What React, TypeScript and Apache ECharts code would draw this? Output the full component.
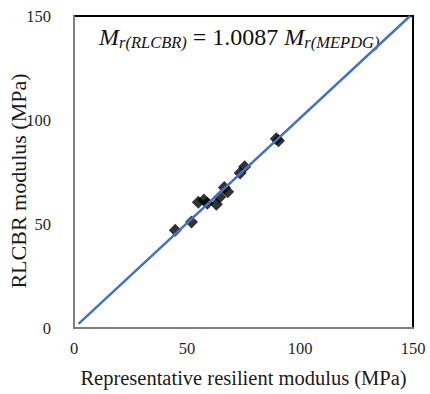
import React, { useEffect, useRef } from "react";
import * as echarts from "echarts";

// Measured pairs: representative resilient modulus (MEPDG) vs RLCBR modulus, MPa
const mepdgModulus = [44.8, 52, 55, 57.5, 59, 63, 64.5, 66.5, 68, 73.5, 75.5, 89.5, 90.5];
const rlcbrModulus = [47, 51, 60.5, 61.5, 60, 59.5, 63, 67.5, 65.5, 74.5, 77.5, 91, 90];

// Fitted line through the origin
const fitSlope = 1.0087;
const fitRangeX = [2, 148.7];

const axisTicks = [0, 50, 100, 150];

const SERIF = "Times New Roman, Liberation Serif, serif";

export default function App() {
  const ref = useRef<HTMLDivElement>(null);

  useEffect(() => {
    if (!ref.current) return;
    const chart = echarts.init(ref.current, null, { renderer: "svg" });
    const points = mepdgModulus.map((x, i) => [x, rlcbrModulus[i]]);
    const fitLine = fitRangeX.map((x) => [x, fitSlope * x]);
    const axisMin = axisTicks[0];
    const axisMax = axisTicks[axisTicks.length - 1];
    const step = axisTicks[1] - axisTicks[0];

    chart.setOption({
      animation: false,
      backgroundColor: "#ffffff",
      textStyle: { fontFamily: SERIF },
      grid: {
        left: 74,
        top: 16,
        width: 339,
        height: 312,
        outerBoundsMode: "none",
        containLabel: false,
        show: true,
        borderColor: "#000000",
        borderWidth: 2,
      },
      xAxis: {
        type: "value",
        min: axisMin,
        max: axisMax,
        interval: step,
        name: "Representative resilient modulus (MPa)",
        nameLocation: "middle",
        nameGap: 39,
        nameTextStyle: { fontFamily: SERIF, fontSize: 20.5, color: "#1a1a1a" },
        axisLine: { show: true, lineStyle: { color: "#7f7f7f", width: 2 } },
        axisTick: { show: false },
        splitLine: { show: false },
        axisLabel: { fontFamily: SERIF, fontSize: 16.5, color: "#1f1f1f", margin: 12 },
      },
      yAxis: {
        type: "value",
        min: axisMin,
        max: axisMax,
        interval: step,
        axisLine: { show: true, lineStyle: { color: "#7f7f7f", width: 2 } },
        axisTick: { show: false },
        splitLine: { show: false },
        axisLabel: { fontFamily: SERIF, fontSize: 16.5, color: "#1f1f1f", margin: 23 },
      },
      series: [
        {
          type: "scatter",
          data: points,
          symbol: "diamond",
          symbolSize: 13,
          itemStyle: { color: "#000000" },
          z: 2,
        },
        {
          type: "line",
          data: fitLine,
          showSymbol: false,
          symbol: "none",
          lineStyle: { color: "#4472C4", width: 2.5 },
          z: 3,
        },
      ],
      graphic: [
        {
          // Y-axis title, drawn separately so it can sit close to the tick labels
          type: "text",
          x: 18,
          y: 181,
          rotation: Math.PI / 2,
          style: {
            text: "RLCBR modulus (MPa)",
            fontFamily: SERIF,
            fontSize: 22,
            fill: "#1a1a1a",
            align: "center",
            verticalAlign: "middle",
          },
        },
        {
          type: "text",
          left: 99,
          top: 25,
          style: {
            text: "{m|M}{s|r(RLCBR)}{n| = 1.0087 }{m|M}{s|r(MEPDG)}",
            rich: {
              m: { fontFamily: SERIF, fontStyle: "italic", fontSize: 24, lineHeight: 28, fill: "#111", verticalAlign: "middle" },
              s: { fontFamily: SERIF, fontStyle: "italic", fontSize: 16.5, lineHeight: 16, fill: "#111", verticalAlign: "bottom" },
              n: { fontFamily: SERIF, fontSize: 24, lineHeight: 28, fill: "#111", verticalAlign: "middle" },
            },
          },
        },
      ],
    });
    return () => chart.dispose();
  }, []);

  return (
    <div
      ref={ref}
      style={{ position: "fixed", left: 0, top: 0, width: 430, height: 394 }}
    />
  );
}
